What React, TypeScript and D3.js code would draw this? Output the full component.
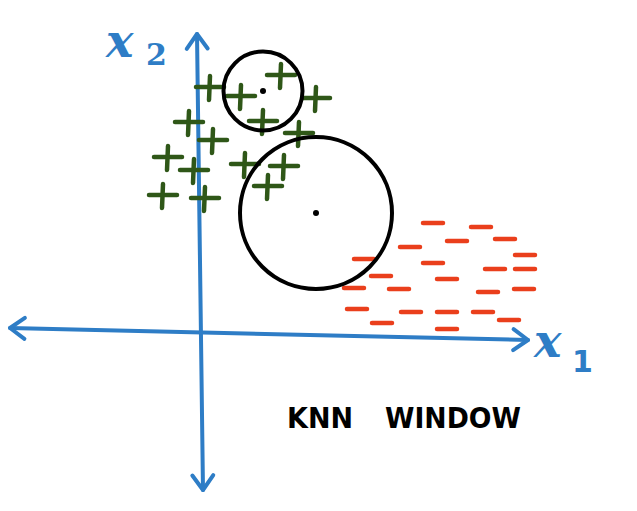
import React from "react";
import * as d3 from "d3";

// class A points ("+"), in x1/x2 units
const plusX1 = [1.0, 4.1, 8.1, 11.6, 6.3, 9.9, -1.1, 1.3, -3.2, -0.6, 4.5, 8.4, 6.8, -3.7, 0.5];
const plusX2 = [24.2, 23.3, 25.4, 23.1, 20.8, 19.6, 20.7, 18.9, 17.2, 15.9, 16.5, 16.3, 14.3, 13.4, 13.1];

// class B points ("-")
const minusX1 = [23.3, 28.1, 25.7, 30.5, 21.0, 32.5, 16.4, 23.3, 29.5, 32.5, 18.1, 24.7, 15.4, 19.9, 28.8, 32.4, 15.7, 21.1, 24.7, 28.3, 18.2, 30.9, 24.7];
const minusX2 = [10.7, 10.3, 8.9, 9.1, 8.3, 7.5, 7.1, 6.7, 6.1, 6.1, 5.4, 5.1, 4.2, 4.1, 3.8, 4.1, 2.1, 1.8, 1.8, 1.8, 0.7, 1.0, 0.1];

// KNN windows: centre and radius
const windowX1 = [6.3, 11.6];
const windowX2 = [23.9, 11.7];
const windowR = [3.95, 7.6];

// axis end points
const axisX1 = [-19, 32.8];
const axisX1y = [0.2, -1.0];
const axisX2 = [-0.3, 0.3];
const axisX2y = [29.6, -16.0];

const title = ["KNN", "WINDOW"];

const width = 637;
const height = 511;

const BLUE = "#2e7dc6";
const GREEN = "#2f5718";
const RED = "#ea3f1c";

const arrowHead = (tx: number, ty: number, fx: number, fy: number, size = 18) => {
  const ang = Math.atan2(ty - fy, tx - fx);
  const a1 = ang + Math.PI - 0.62;
  const a2 = ang + Math.PI + 0.62;
  return `M${tx + size * Math.cos(a1)},${ty + size * Math.sin(a1)}L${tx},${ty}L${tx + size * Math.cos(a2)},${ty + size * Math.sin(a2)}`;
};

const App: React.FC = () => {
  const x = d3.scaleLinear().domain([-20, 43.7]).range([0, 637]);
  const y = d3.scaleLinear().domain([-18.1, 33]).range([511, 0]);

  const line = d3.line<[number, number]>().x((d) => x(d[0])).y((d) => y(d[1]));

  const hx = [x(axisX1[0]), y(axisX1y[0]), x(axisX1[1]), y(axisX1y[1])];
  const vx = [x(axisX2[0]), y(axisX2y[0]), x(axisX2[1]), y(axisX2y[1])];

  return (
    <svg
      width={width}
      height={height}
      style={{ position: "absolute", left: 0, top: 0, background: "#fff" }}
    >
      {/* axes */}
      <g stroke={BLUE} strokeWidth={4} fill="none" strokeLinecap="round" strokeLinejoin="round">
        <path d={line([[axisX1[0], axisX1y[0]], [axisX1[1], axisX1y[1]]]) || ""} />
        <path d={arrowHead(hx[0], hx[1], hx[2], hx[3])} />
        <path d={arrowHead(hx[2], hx[3], hx[0], hx[1])} />
        <path d={line([[axisX2[0], axisX2y[0]], [axisX2[1], axisX2y[1]]]) || ""} />
        <path d={arrowHead(vx[0], vx[1], vx[2], vx[3])} />
        <path d={arrowHead(vx[2], vx[3], vx[0], vx[1])} />
      </g>

      {/* axis labels */}
      <g fill={BLUE} fontFamily="DejaVu Serif" fontStyle="italic" fontWeight="bold">
        <text x={106} y={57} fontSize={46}>x</text>
        <text x={146} y={65} fontSize={30} fontStyle="normal">2</text>
        <text x={534} y={357} fontSize={46}>x</text>
        <text x={572} y={372} fontSize={30} fontFamily="DejaVu Sans" fontStyle="normal">1</text>
      </g>

      {/* plus points */}
      <g stroke={GREEN} strokeWidth={4.5} strokeLinecap="round">
        {plusX1.map((v, i) => {
          const cx = x(v);
          const cy = y(plusX2[i]);
          return (
            <g key={i}>
              <line x1={cx - 14} y1={cy - 1} x2={cx + 14} y2={cy - 1} />
              <line x1={cx} y1={cy - 12} x2={cx - 1} y2={cy + 12} />
            </g>
          );
        })}
      </g>

      {/* minus points */}
      <g stroke={RED} strokeWidth={4.5} strokeLinecap="round">
        {minusX1.map((v, i) => {
          const cx = x(v);
          const cy = y(minusX2[i]);
          return <line key={i} x1={cx - 10} y1={cy} x2={cx + 10} y2={cy} />;
        })}
      </g>

      {/* knn windows */}
      <g>
        {windowX1.map((v, i) => (
          <g key={i}>
            <circle
              cx={x(v)}
              cy={y(windowX2[i])}
              r={x(v + windowR[i]) - x(v)}
              fill="none"
              stroke="#000"
              strokeWidth={4}
            />
            <circle cx={x(v)} cy={y(windowX2[i])} r={3} fill="#000" />
          </g>
        ))}
      </g>

      {/* caption */}
      <g fontFamily="DejaVu Sans" fontWeight="bold" fontSize={29} fill="#000">
        <text x={287} y={428} textLength={66} lengthAdjust="spacingAndGlyphs">{title[0]}</text>
        <text x={385} y={428} textLength={136} lengthAdjust="spacingAndGlyphs">{title[1]}</text>
      </g>
    </svg>
  );
};

export default App;
